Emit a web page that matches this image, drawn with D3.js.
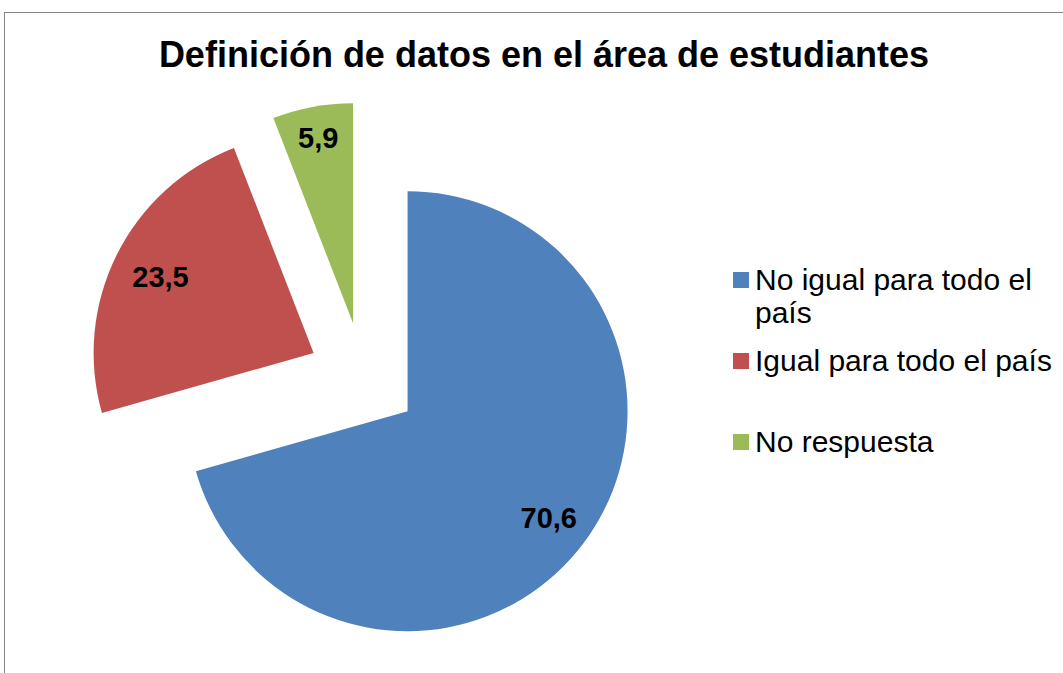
<!DOCTYPE html>
<html>
<head>
<meta charset="utf-8">
<script src="https://cdn.jsdelivr.net/npm/d3@7"></script>
<style>
  html, body { margin: 0; padding: 0; background: #fff; }
  svg { display: block; font-family: "Liberation Sans", Arial, sans-serif; }
</style>
</head>
<body>
<svg id="chart" width="1063" height="673" viewBox="0 0 1063 673"></svg>
<script>
// data
const categories = ["No igual para todo el país", "Igual para todo el país", "No respuesta"];
const values = [70.6, 23.5, 5.9];
const valueLabels = ["70,6", "23,5", "5,9"];
const colors = ["#4F81BD", "#C0504D", "#9BBB59"];

// layout
const title = "Definición de datos en el área de estudiantes";
const pieCenter = [363.3, 377.7];
const radius = 220;
const explode = 55.5;
const labelDistance = [177, 171, 189];

const svg = d3.select("#chart");
const [, , viewWidth, viewHeight] = svg.attr("viewBox").split(" ").map(Number);

// chart frame (runs off the right and bottom edge)
svg
  .append("rect")
  .attr("x", 4.5)
  .attr("y", 12.5)
  .attr("width", viewWidth + 40)
  .attr("height", viewHeight + 40)
  .attr("fill", "#fff")
  .attr("stroke", "#868686")
  .attr("stroke-width", 1);

svg
  .append("text")
  .attr("x", 544)
  .attr("y", 67)
  .attr("text-anchor", "middle")
  .attr("font-size", 36)
  .attr("font-weight", "bold")
  .attr("fill", "#000")
  .text(title);

const pie = d3
  .pie()
  .sort(null)
  .value((d) => d.value);

const arcs = pie(values.map((value, i) => ({ value, i })));
const arc = d3.arc().innerRadius(0).outerRadius(radius);

const midDir = (d) => {
  const a = (d.startAngle + d.endAngle) / 2;
  return [Math.sin(a), -Math.cos(a)];
};

const slices = svg
  .append("g")
  .attr("transform", `translate(${pieCenter[0]},${pieCenter[1]})`)
  .selectAll("g")
  .data(arcs)
  .join("g")
  .attr("transform", (d) => {
    const [dx, dy] = midDir(d);
    return `translate(${dx * explode},${dy * explode})`;
  });

slices
  .append("path")
  .attr("d", arc)
  .attr("fill", (d) => colors[d.data.i]);

slices
  .append("text")
  .attr("x", (d) => midDir(d)[0] * labelDistance[d.data.i])
  .attr("y", (d) => midDir(d)[1] * labelDistance[d.data.i])
  .attr("dy", "0.36em")
  .attr("text-anchor", "middle")
  .attr("font-size", 29)
  .attr("font-weight", "bold")
  .attr("fill", "#000")
  .text((d) => valueLabels[d.data.i]);

// legend
const legendX = 733;
const legendTop = 290;
const rowStep = 81;
const lineHeight = 33;
const wrapWidth = 300;

const legend = svg.append("g").attr("font-size", 30).attr("fill", "#000");

categories.forEach((name, i) => {
  const y = legendTop + i * rowStep;
  legend
    .append("rect")
    .attr("x", legendX)
    .attr("y", y - 18)
    .attr("width", 16)
    .attr("height", 16)
    .attr("fill", colors[i]);

  const text = legend
    .append("text")
    .attr("x", legendX + 22)
    .attr("y", y);

  // simple word wrap
  const words = name.split(" ");
  let line = [];
  let tspan = text.append("tspan").attr("x", legendX + 22).attr("y", y);
  let lineNo = 0;
  words.forEach((w) => {
    line.push(w);
    tspan.text(line.join(" "));
    if (tspan.node().getComputedTextLength() > wrapWidth && line.length > 1) {
      line.pop();
      tspan.text(line.join(" "));
      line = [w];
      lineNo += 1;
      tspan = text
        .append("tspan")
        .attr("x", legendX + 22)
        .attr("y", y + lineNo * lineHeight)
        .text(w);
    }
  });
});
</script>
</body>
</html>
